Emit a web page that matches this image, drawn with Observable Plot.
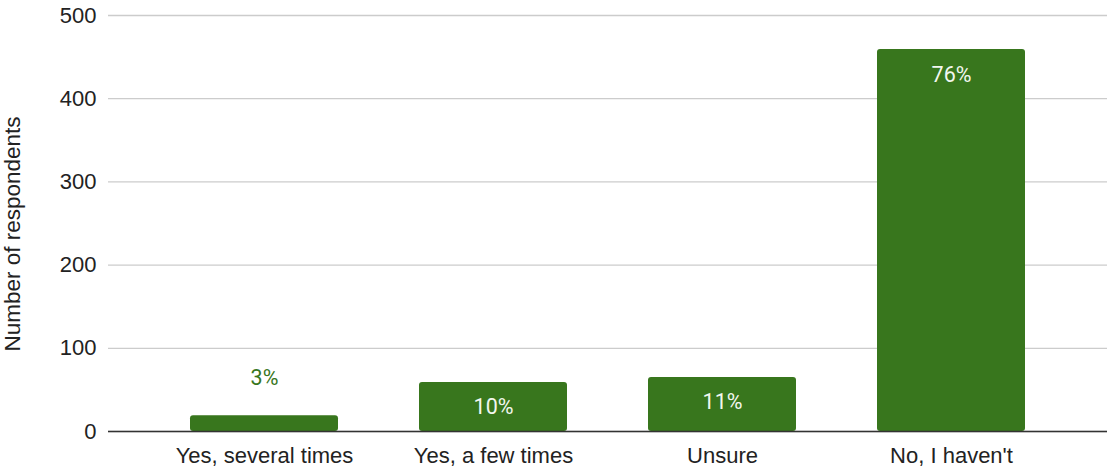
<!DOCTYPE html>
<html>
<head>
<meta charset="utf-8">
<script src="https://cdn.jsdelivr.net/npm/d3@7"></script>
<script src="https://cdn.jsdelivr.net/npm/@observablehq/plot@0.6"></script>
<style>
  html, body { margin: 0; padding: 0; background: #fff; }
  svg { font-family: "Liberation Sans", Arial, sans-serif; }
</style>
</head>
<body>
<div id="chart"></div>
<script>
const categories = ["Yes, several times", "Yes, a few times", "Unsure", "No, I haven't"];
const respondents = [19, 59, 65, 459];
const percentLabels = ["3%", "10%", "11%", "76%"];
const yTicks = [0, 100, 200, 300, 400, 500];
const yTitle = "Number of respondents";

const data = categories.map((c, i) => ({category: c, value: respondents[i], label: percentLabels[i]}));
const green = "#38761d";

const chart = Plot.plot({
  width: 1107,
  height: 469,
  marginLeft: 108,
  marginRight: 0,
  marginTop: 15,
  marginBottom: 38,
  style: {fontSize: "22px", fontFamily: "'Liberation Sans', Arial, sans-serif", color: "#222", background: "#fff"},
  x: {domain: categories, paddingInner: 0.355, paddingOuter: 0.35, label: null, tickSize: 0, tickPadding: 16},
  y: {domain: [0, 500], ticks: yTicks, label: null, tickSize: 0, tickPadding: 12, grid: false},
  marks: [
    Plot.gridY(yTicks, {stroke: "#ccc", strokeOpacity: 1, strokeWidth: 1.3}),
    Plot.barY(data, {x: "category", y: "value", fill: green, rx: 3}),
    Plot.ruleY([0], {stroke: "#333", strokeWidth: 1.3}),
    Plot.text(data.filter(d => d.value >= 40), {x: "category", y: "value", text: "label", dy: 25, fill: "#f2f7ef", fontSize: 21.5, fontFamily: "Roboto, sans-serif"}),
    Plot.text(data.filter(d => d.value < 40), {x: "category", y: "value", text: "label", dy: -37.5, fill: green, fontSize: 21.5, fontFamily: "Roboto, sans-serif"}),
    Plot.text([yTitle], {frameAnchor: "left", text: d => d, rotate: -90, textAnchor: "middle", dx: -96, dy: 10.5, fill: "#222", fontSize: 22.5})
  ]
});
document.getElementById("chart").appendChild(chart);
</script>
</body>
</html>
